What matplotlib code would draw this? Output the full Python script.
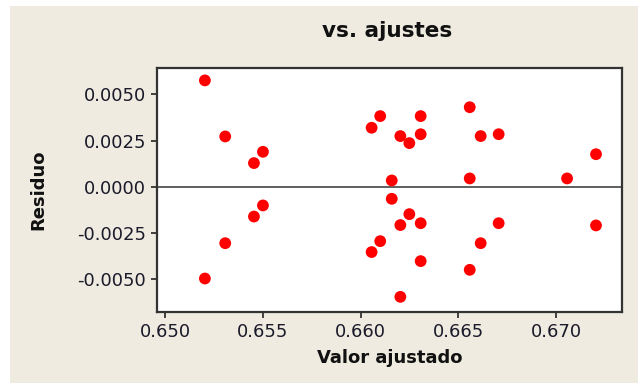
import matplotlib
matplotlib.use("Agg")
import matplotlib.pyplot as plt
from matplotlib.patches import Rectangle

# Data
fitted = [0.65203, 0.65307, 0.65500, 0.65454, 0.65500, 0.65454, 0.65307, 0.65203,
          0.66100, 0.66056, 0.66307, 0.66307, 0.66203, 0.66249, 0.66558, 0.66614,
          0.66706, 0.67204, 0.66159, 0.66558, 0.67056, 0.66159, 0.66249, 0.66203,
          0.66307, 0.66706, 0.67204, 0.66100, 0.66056, 0.66614, 0.66307, 0.66558,
          0.66203]
residuals = [0.00576, 0.00273, 0.00190, 0.00129, -0.00100, -0.00160, -0.00304, -0.00495,
             0.00383, 0.00320, 0.00383, 0.00285, 0.00275, 0.00237, 0.00431, 0.00275,
             0.00285, 0.00177, 0.00035, 0.00046, 0.00046, -0.00064, -0.00147, -0.00206,
             -0.00196, -0.00196, -0.00208, -0.00293, -0.00352, -0.00304, -0.00401, -0.00448,
             -0.00594]
xticks = [0.650, 0.655, 0.660, 0.665, 0.670]
xticklabels = ["0.650", "0.655", "0.660", "0.665", "0.670"]
yticks = [-0.0050, -0.0025, 0.0000, 0.0025, 0.0050]
yticklabels = ["-0.0050", "-0.0025", "0.0000", "0.0025", "0.0050"]

W, H = 638, 383
fig = plt.figure(figsize=(W / 100, H / 100), dpi=100, facecolor="white")
fig.patches.append(Rectangle((10 / W, 0), 1 - 10 / W, 1 - 6 / H, transform=fig.transFigure,
                             facecolor="#EFEBE0", edgecolor="none", zorder=-10))

ax = fig.add_axes([157 / W, 1 - 312 / H, (622 - 157) / W, (312 - 68) / H])
ax.set_facecolor("white")
ax.axhline(0, color="#444444", linewidth=1.2, zorder=1)
ax.scatter(fitted, residuals, s=72, color="#FF0000", edgecolors="none", zorder=3)

ax.set_xlim(0.64958, 0.67337)
ax.set_ylim(-0.00676, 0.00643)
ax.set_xticks(xticks)
ax.set_xticklabels(xticklabels)
ax.set_yticks(yticks)
ax.set_yticklabels(yticklabels)
ax.tick_params(axis="both", direction="out", length=4, width=1.3, colors="#333333",
               labelsize=13, labelcolor="#1a1a2a", pad=4)
for sp in ax.spines.values():
    sp.set_color("#333333")
    sp.set_linewidth(1.6)

ax.set_xlabel("Valor ajustado", fontsize=13, fontweight="bold", color="#111111", labelpad=6)
ax.set_ylabel("Residuo", fontsize=13, fontweight="bold", color="#111111", labelpad=21)
fig.text(387 / W, 1 - 31 / H, "vs. ajustes", ha="center", va="center",
         fontsize=15.5, fontweight="bold", color="#111111")

fig.savefig("out.png", dpi=100, facecolor=fig.get_facecolor())
